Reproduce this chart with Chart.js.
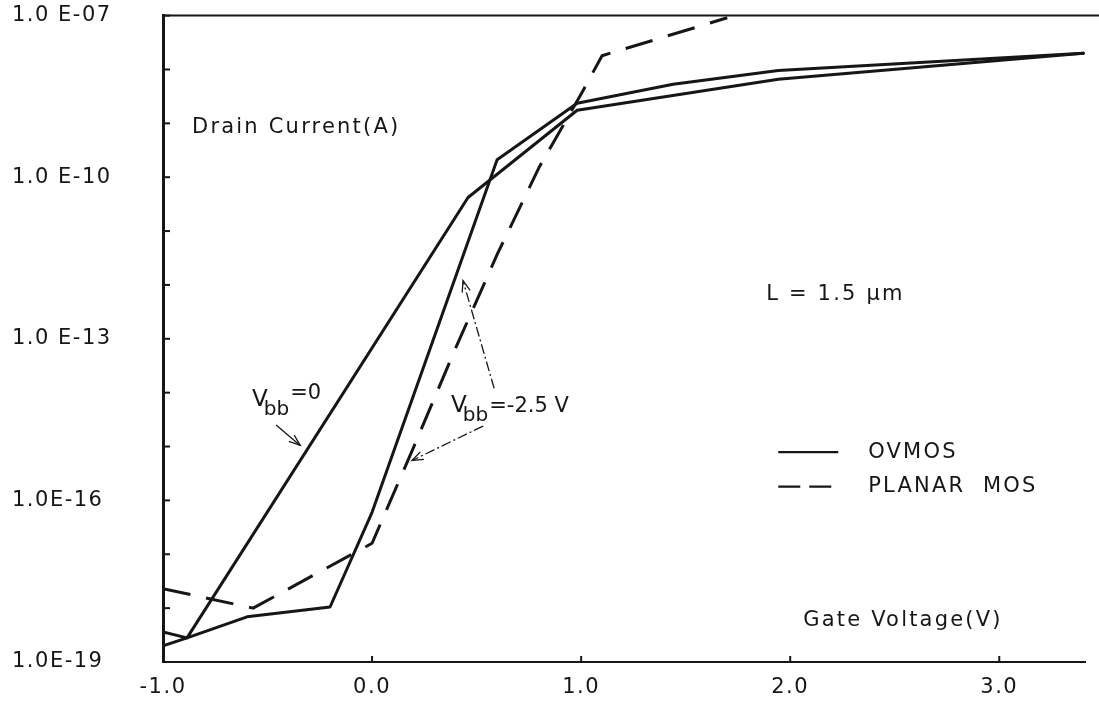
<!DOCTYPE html>
<html>
<head>
<meta charset="utf-8">
<script src="https://cdn.jsdelivr.net/npm/chart.js@4.4.1/dist/chart.umd.min.js"></script>
<style>
  html, body { margin: 0; background: #fff; }
  canvas { display: block; }
</style>
</head>
<body>
<canvas id="myChart" width="1099" height="706"></canvas>
<script>
// gate voltage (V) / drain current (A)
const vbb0Volts = [-1.0, -0.885, 0.459, 0.981, 1.943, 3.402];
const vbb0Amps = [2.0e-19, 2.8e-19, 4.2e-11, 1.75e-9, 6.6e-9, 2.0e-8];

const vbb25Volts = [-1.0, -0.885, -0.598, -0.201, 0.0, 0.598, 0.981, 1.44, 1.943, 3.402];
const vbb25Amps = [3.6e-19, 2.8e-19, 6.9e-19, 1.05e-18, 6.0e-17, 2.1e-10, 2.36e-9, 5.3e-9, 9.6e-9, 2.0e-8];

const planarVolts = [-1.0, -0.569, 0.0, 0.2, 0.4, 0.6, 0.8, 1.0, 1.1, 1.699];
const planarAmps = [2.3e-18, 1.0e-18, 1.6e-17, 1.0e-15, 6.8e-14, 3.8e-12, 1.55e-10, 3.5e-9, 1.8e-8, 9.1e-8];

const xTicks = [-1, 0, 1, 2, 3];
const xTickLabels = ["-1.0", "0.0", "1.0", "2.0", "3.0"];
const yDecades = [-19, -18, -17, -16, -15, -14, -13, -12, -11, -10, -9, -8, -7];
const yLabelExps = [-7, -10, -13, -16, -19];
const yTickLabels = ["1.0 E-07", "1.0 E-10", "1.0 E-13", "1.0E-16", "1.0E-19"];

const INK = "#161616";
const FONT = "'DejaVu Sans', sans-serif";

const toPoints = (xs, ys) => xs.map((x, i) => ({ x: x, y: ys[i] }));

// extra text on the plot, placed in data units
const notes = [
  { text: "Drain Current(A)", x: -0.861, y: 8.5e-10 },
  { text: "L = 1.5 \u00b5m", x: 1.885, y: 6.6e-13 },
  { text: "Gate Voltage(V)", x: 2.062, y: 6.0e-19 },
];

const drawArrow = (ctx, x1, y1, x2, y2, dash) => {
  ctx.save();
  ctx.strokeStyle = INK;
  ctx.lineWidth = 1.3;
  ctx.setLineDash(dash || []);
  ctx.beginPath();
  ctx.moveTo(x1, y1);
  ctx.lineTo(x2, y2);
  ctx.stroke();
  ctx.setLineDash([]);
  const a = Math.atan2(y2 - y1, x2 - x1);
  ctx.beginPath();
  ctx.moveTo(x2 - 12 * Math.cos(a - 0.35), y2 - 12 * Math.sin(a - 0.35));
  ctx.lineTo(x2, y2);
  ctx.lineTo(x2 - 12 * Math.cos(a + 0.35), y2 - 12 * Math.sin(a + 0.35));
  ctx.stroke();
  ctx.restore();
};

const vbbLabel = (ctx, x, y, tail, tailRise) => {
  ctx.letterSpacing = "0px";
  ctx.textBaseline = "middle";
  ctx.textAlign = "left";
  ctx.font = "23px " + FONT;
  ctx.fillText("V", x, y);
  let w = ctx.measureText("V").width - 4;
  ctx.font = "20px " + FONT;
  ctx.fillText("bb", x + w, y + 10);
  w += ctx.measureText("bb").width + 1;
  ctx.font = "21px " + FONT;
  ctx.fillText(tail, x + w, y - tailRise);
};

const paperPlugin = {
  id: "paper",
  beforeDraw: (chart) => {
    chart.ctx.letterSpacing = "1.5px";
  },
  afterDraw: (chart) => {
    const { ctx, chartArea: area, scales } = chart;
    const sx = scales.x;
    const sy = scales.y;
    ctx.save();
    ctx.strokeStyle = INK;
    ctx.fillStyle = INK;

    // top frame line
    ctx.lineWidth = 2;
    ctx.beginPath();
    ctx.moveTo(area.left, area.top);
    ctx.lineTo(chart.width, area.top);
    ctx.stroke();

    // inward ticks
    yDecades.forEach((e) => {
      const py = sy.getPixelForValue(Math.pow(10, e));
      ctx.beginPath();
      ctx.moveTo(area.left, py);
      ctx.lineTo(area.left + 7, py);
      ctx.stroke();
    });
    xTicks.forEach((v) => {
      const px = sx.getPixelForValue(v);
      ctx.beginPath();
      ctx.moveTo(px, area.bottom);
      ctx.lineTo(px, area.bottom - 6);
      ctx.stroke();
    });

    // notes
    ctx.letterSpacing = "2.2px";
    ctx.font = "21px " + FONT;
    ctx.textBaseline = "middle";
    notes.forEach((n) => {
      ctx.fillText(n.text, sx.getPixelForValue(n.x), sy.getPixelForValue(n.y));
    });

    // legend
    const lx1 = sx.getPixelForValue(1.943);
    const lx2 = sx.getPixelForValue(2.23);
    const ly1 = sy.getPixelForValue(7.9e-16);
    const ly2 = sy.getPixelForValue(1.8e-16);
    ctx.lineWidth = 2.2;
    ctx.beginPath();
    ctx.moveTo(lx1, ly1);
    ctx.lineTo(lx2, ly1);
    ctx.stroke();
    ctx.setLineDash([22, 9]);
    ctx.beginPath();
    ctx.moveTo(lx1, ly2);
    ctx.lineTo(lx2, ly2);
    ctx.stroke();
    ctx.setLineDash([]);
    ctx.fillText("OVMOS", sx.getPixelForValue(2.373), ly1);
    ctx.fillText("PLANAR  MOS", sx.getPixelForValue(2.373), ly2);

    // Vbb labels and arrows
    vbbLabel(ctx, sx.getPixelForValue(-0.574), sy.getPixelForValue(7.4e-15), "=0", 6);
    vbbLabel(ctx, sx.getPixelForValue(0.378), sy.getPixelForValue(5.6e-15), "=-2.5 V", 0);
    drawArrow(ctx, sx.getPixelForValue(-0.459), sy.getPixelForValue(2.5e-15),
      sx.getPixelForValue(-0.344), sy.getPixelForValue(1.05e-15));
    drawArrow(ctx, sx.getPixelForValue(0.584), sy.getPixelForValue(1.2e-14),
      sx.getPixelForValue(0.435), sy.getPixelForValue(1.2e-12), [10, 3, 2, 3]);
    drawArrow(ctx, sx.getPixelForValue(0.531), sy.getPixelForValue(2.4e-15),
      sx.getPixelForValue(0.191), sy.getPixelForValue(5.5e-16), [10, 3, 2, 3]);

    ctx.restore();
  },
};

const lineStyle = {
  borderColor: INK,
  borderWidth: 3,
  pointRadius: 0,
  tension: 0,
  fill: false,
  borderCapStyle: "round",
  borderJoinStyle: "round",
};

const ctx = document.getElementById("myChart");

new Chart(ctx, {
  type: "line",
  data: {
    datasets: [
      { label: "OVMOS Vbb=0", data: toPoints(vbb0Volts, vbb0Amps), ...lineStyle },
      { label: "OVMOS Vbb=-2.5 V", data: toPoints(vbb25Volts, vbb25Amps), ...lineStyle },
      {
        label: "PLANAR MOS",
        data: toPoints(planarVolts, planarAmps),
        ...lineStyle,
        borderCapStyle: "butt",
        borderDash: [28, 16],
      },
    ],
  },
  options: {
    responsive: false,
    animation: false,
    devicePixelRatio: 1,
    layout: { padding: { top: 13, right: 14, left: 12, bottom: 0 } },
    plugins: {
      legend: { display: false },
      tooltip: { enabled: false },
    },
    scales: {
      x: {
        type: "linear",
        min: -1,
        max: 3.41,
        afterBuildTicks: (s) => {
          s.ticks = xTicks.map((v) => ({ value: v }));
        },
        afterFit: (s) => {
          s.height = 44;
        },
        grid: { drawOnChartArea: false, drawTicks: false },
        border: { color: INK, width: 2 },
        ticks: {
          padding: 13,
          autoSkip: false,
          maxRotation: 0,
          color: INK,
          font: { family: FONT, size: 21 },
          callback: (v) => xTickLabels[xTicks.indexOf(v)],
        },
      },
      y: {
        type: "logarithmic",
        min: 1e-19,
        max: 1e-7,
        afterBuildTicks: (s) => {
          s.ticks = yDecades.map((e) => ({ value: Math.pow(10, e) }));
        },
        afterFit: (s) => {
          s.width = 151;
        },
        grid: { drawOnChartArea: false, drawTicks: false },
        border: { color: INK, width: 3 },
        ticks: {
          crossAlign: "far",
          autoSkip: false,
          color: INK,
          font: { family: FONT, size: 21 },
          callback: (v) => {
            const i = yLabelExps.indexOf(Math.round(Math.log10(v)));
            return i < 0 ? "" : yTickLabels[i];
          },
        },
      },
    },
  },
  plugins: [paperPlugin],
});
</script>
</body>
</html>
